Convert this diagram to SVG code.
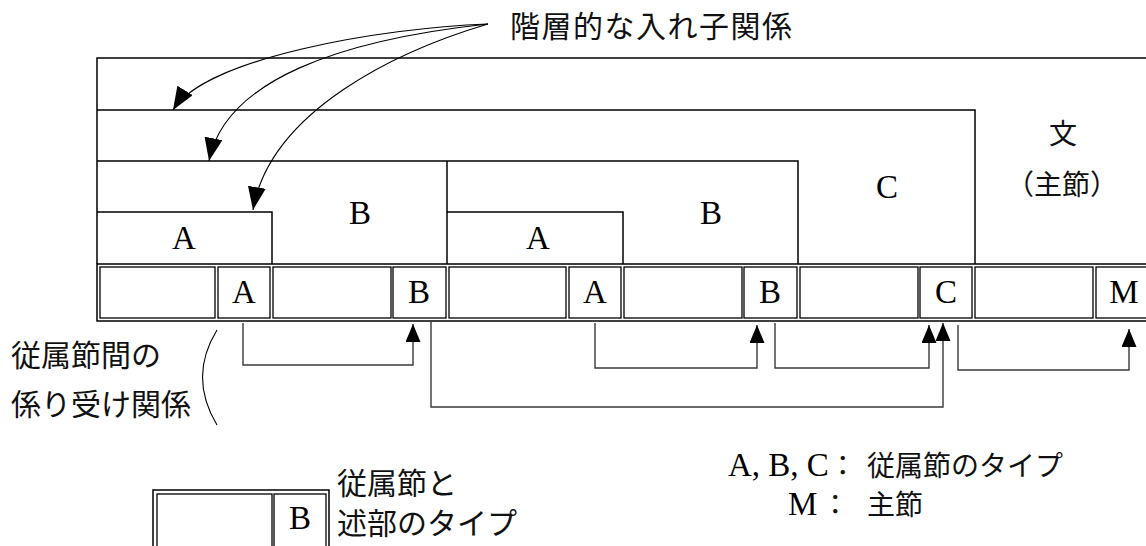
<svg xmlns="http://www.w3.org/2000/svg" width="1146" height="546" viewBox="0 0 1146 546">
<style>
.ln{fill:none;stroke:#000;stroke-width:1.5}
.cell{fill:none;stroke:#000;stroke-width:1.3}
.con{fill:none;stroke:#3a3a3a;stroke-width:1.4}
.cur{fill:none;stroke:#000;stroke-width:1.1}
.lat{font-family:"Liberation Serif","Times New Roman",serif;font-size:33px;fill:#000}
.jp{font-family:"Noto Sans CJK JP","Noto Sans CJK SC",sans-serif;fill:#111}
</style>
<defs>
<marker id="ah" markerUnits="userSpaceOnUse" markerWidth="24" markerHeight="20" refX="23" refY="9" orient="auto">
<path d="M0,0 L23,9 L0,18 Z" fill="#000"/>
</marker>
<marker id="au" markerUnits="userSpaceOnUse" markerWidth="20" markerHeight="16" refX="18" refY="7.5" orient="auto">
<path d="M0,0 L18,7.5 L0,15 Z" fill="#000"/>
</marker>
</defs>
<rect width="1146" height="546" fill="#fff"/>

<g id="title">
<text class="jp" x="510" y="37" font-size="30" textLength="282" lengthAdjust="spacing">階層的な入れ子関係</text>
</g>

<g id="structure">
<path class="ln" d="M97,264 V58 H1150"/>
<path class="ln" d="M97,110 H975 V264"/>
<path class="ln" d="M97,161 H798 V264"/>
<path class="ln" d="M447,161 V264"/>
<path class="ln" d="M97,212 H272 V264"/>
<path class="ln" d="M447,212 H623 V264"/>
</g>

<g id="level-labels">
<text class="lat" x="184" y="249" text-anchor="middle">A</text>
<text class="lat" x="360" y="224" text-anchor="middle">B</text>
<text class="lat" x="538" y="249" text-anchor="middle">A</text>
<text class="lat" x="711" y="224" text-anchor="middle">B</text>
<text class="lat" x="887" y="198" text-anchor="middle">C</text>
<text class="jp" x="1063" y="144" font-size="28" text-anchor="middle">文</text>
<text class="jp" x="1062" y="195" font-size="28" text-anchor="middle">（主節）</text>
</g>

<g id="row">
<rect class="ln" x="97" y="264" width="1060" height="57"/>
<rect class="cell" x="100" y="267" width="115" height="51"/>
<rect class="cell" x="218" y="267" width="52" height="51"/>
<rect class="cell" x="273" y="267" width="118" height="51"/>
<rect class="cell" x="393" y="267" width="53" height="51"/>
<rect class="cell" x="449" y="267" width="117" height="51"/>
<rect class="cell" x="569" y="267" width="52" height="51"/>
<rect class="cell" x="624" y="267" width="118" height="51"/>
<rect class="cell" x="744" y="267" width="53" height="51"/>
<rect class="cell" x="800" y="267" width="118" height="51"/>
<rect class="cell" x="920" y="267" width="52" height="51"/>
<rect class="cell" x="975" y="267" width="118" height="51"/>
<rect class="cell" x="1096" y="267" width="60" height="51"/>
<text class="lat" x="244" y="303" text-anchor="middle">A</text>
<text class="lat" x="419" y="303" text-anchor="middle">B</text>
<text class="lat" x="595" y="303" text-anchor="middle">A</text>
<text class="lat" x="770" y="303" text-anchor="middle">B</text>
<text class="lat" x="946" y="303" text-anchor="middle">C</text>
<text class="lat" x="1124" y="303" text-anchor="middle">M</text>
</g>

<g id="connectors">
<path class="cur" d="M488,24 C380,28 205,58 173,110" marker-end="url(#ah)"/>
<path class="cur" d="M488,24 C340,40 225,80 209,161" marker-end="url(#ah)"/>
<path class="cur" d="M488,24 C400,50 270,110 253,210" marker-end="url(#ah)"/>
<path class="con" d="M243,323 V365 H413 V324" marker-end="url(#au)"/>
<path class="con" d="M431,321 V407 H943 V323" marker-end="url(#au)"/>
<path class="con" d="M595,323 V368 H757 V325" marker-end="url(#au)"/>
<path class="con" d="M775,323 V368 H929 V325" marker-end="url(#au)"/>
<path class="con" d="M958,325 V370 H1129 V329" marker-end="url(#au)"/>
</g>

<g id="dep-label">
<text class="jp" x="11" y="366" font-size="30">従属節間の</text>
<text class="jp" x="11" y="415" font-size="30">係り受け関係</text>
<path class="cur" d="M217,330 Q188,377 217,425"/>
</g>

<g id="legend-box">
<rect class="ln" x="153" y="490" width="176" height="70"/>
<rect class="cell" x="157" y="494" width="115" height="60"/>
<rect class="cell" x="274" y="494" width="52" height="60"/>
<text class="lat" x="300" y="529" text-anchor="middle">B</text>
<text class="jp" x="337" y="494" font-size="30">従属節と</text>
<text class="jp" x="337" y="534" font-size="30">述部のタイプ</text>
</g>

<g id="legend-types">
<text class="lat" x="728" y="476">A, B, C<tspan class="jp" font-size="28">：</tspan></text>
<text class="jp" x="867" y="476" font-size="28">従属節のタイプ</text>
<text class="lat" x="788" y="515">M<tspan class="jp" font-size="28" dx="4">：</tspan></text>
<text class="jp" x="867" y="515" font-size="28">主節</text>
</g>
</svg>
